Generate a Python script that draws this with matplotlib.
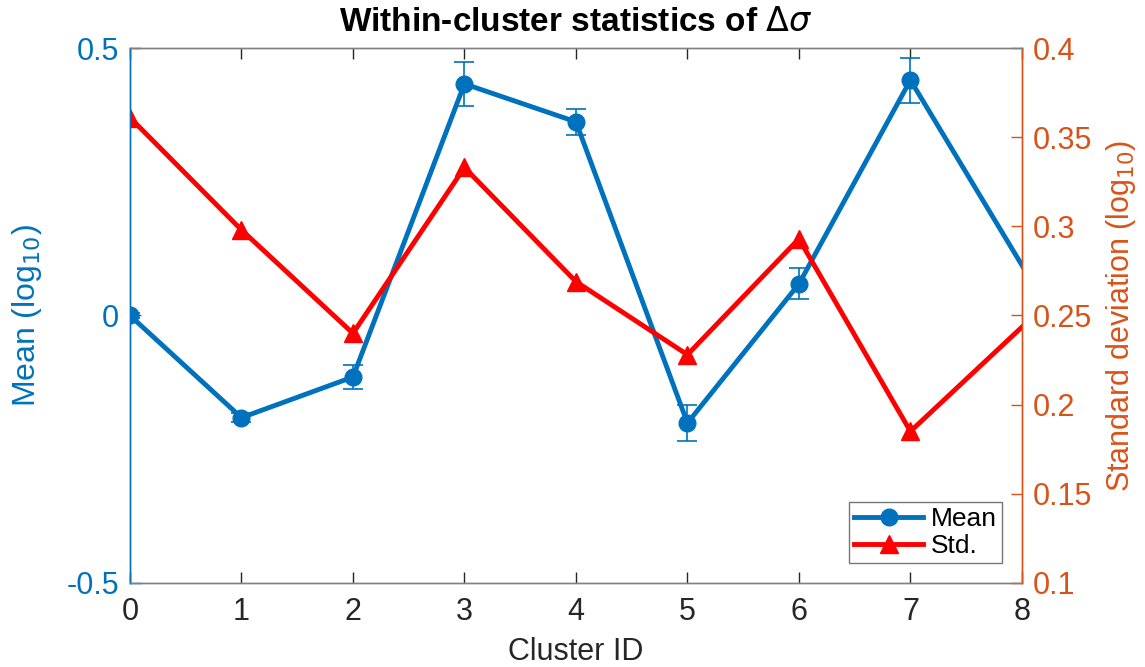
import matplotlib
matplotlib.use('Agg')
import matplotlib.pyplot as plt
from matplotlib.lines import Line2D

plt.rcParams['font.family'] = ['Liberation Sans', 'DejaVu Sans']
plt.rcParams['mathtext.fontset'] = 'dejavusans'

# cluster ids (the last one lies past the x limit and is clipped, as in the original)
cluster_id = [0, 1, 2, 3, 4, 5, 6, 7, 9]
mean_vals = [0.0, -0.191, -0.115, 0.433, 0.362, -0.201, 0.059, 0.44, -0.252]
mean_err = [0.004, 0.008, 0.022, 0.041, 0.024, 0.033, 0.029, 0.042, 0.03]
std_vals = [0.361, 0.298, 0.240, 0.333, 0.269, 0.228, 0.293, 0.185, 0.302]

blue = '#0072BD'
orange = '#D95319'
dark = '#262626'

fig = plt.figure(figsize=(11.45, 6.67), dpi=100)
ax = fig.add_axes([0.1135, 0.126, 0.779, 0.802])
ax2 = ax.twinx()

ax.errorbar(cluster_id, mean_vals, yerr=mean_err, color=blue, lw=3.5,
            marker='o', ms=12, capsize=7, elinewidth=1.2, capthick=1.2)
ax2.plot(cluster_id, std_vals, color='red', lw=3.5, marker='^', ms=13)

ax.set_xlim(0, 8)
ax.set_ylim(-0.5, 0.5)
ax.set_yticks([-0.5, 0, 0.5])
ax.set_yticklabels(['-0.5', '0', '0.5'])
ax.set_xticks(range(0, 9))
ax2.set_ylim(0.1, 0.4)
ax2.set_yticks([0.1, 0.15, 0.2, 0.25, 0.3, 0.35, 0.4])
ax2.set_yticklabels(['0.1', '0.15', '0.2', '0.25', '0.3', '0.35', '0.4'])

ax.tick_params(axis='x', direction='in', top=True, length=8, width=1,
               colors=dark, labelsize=22, pad=10)
ax.tick_params(axis='y', direction='in', length=8, width=1, colors=blue,
               labelsize=22, pad=8)
ax2.tick_params(axis='y', direction='in', length=8, width=1, colors=orange,
                labelsize=22, pad=8)

for a in (ax, ax2):
    a.spines['top'].set_color('#808080')
    a.spines['bottom'].set_color('#808080')
    a.spines['left'].set_color(blue)
    a.spines['right'].set_color(orange)
    for s in a.spines.values():
        s.set_linewidth(1)

ax.set_xlabel('Cluster ID', fontsize=22, color=dark, labelpad=7)
ax.set_ylabel('Mean (log$_{10}$)', fontsize=23, color=blue, labelpad=16)
ax2.set_ylabel('Standard deviation (log$_{10}$)', fontsize=22, color=orange,
               labelpad=8)
ax.set_title(r'Within-cluster statistics of $\Delta\sigma$', fontsize=24,
             fontweight='bold', pad=12)

handles = [Line2D([], [], color=blue, lw=3.5, marker='o', ms=12),
           Line2D([], [], color='red', lw=3.5, marker='^', ms=13)]
leg = ax2.legend(handles, ['Mean', 'Std.'], loc='lower right', fontsize=19,
                 frameon=True, fancybox=False, edgecolor='#555555',
                 handlelength=2.6, borderpad=0.2, labelspacing=0.1,
                 handletextpad=0.3, borderaxespad=0,
                 bbox_to_anchor=(0.978, 0.037))
leg.get_frame().set_linewidth(1)

fig.savefig('out.png', dpi=100, facecolor='white')
